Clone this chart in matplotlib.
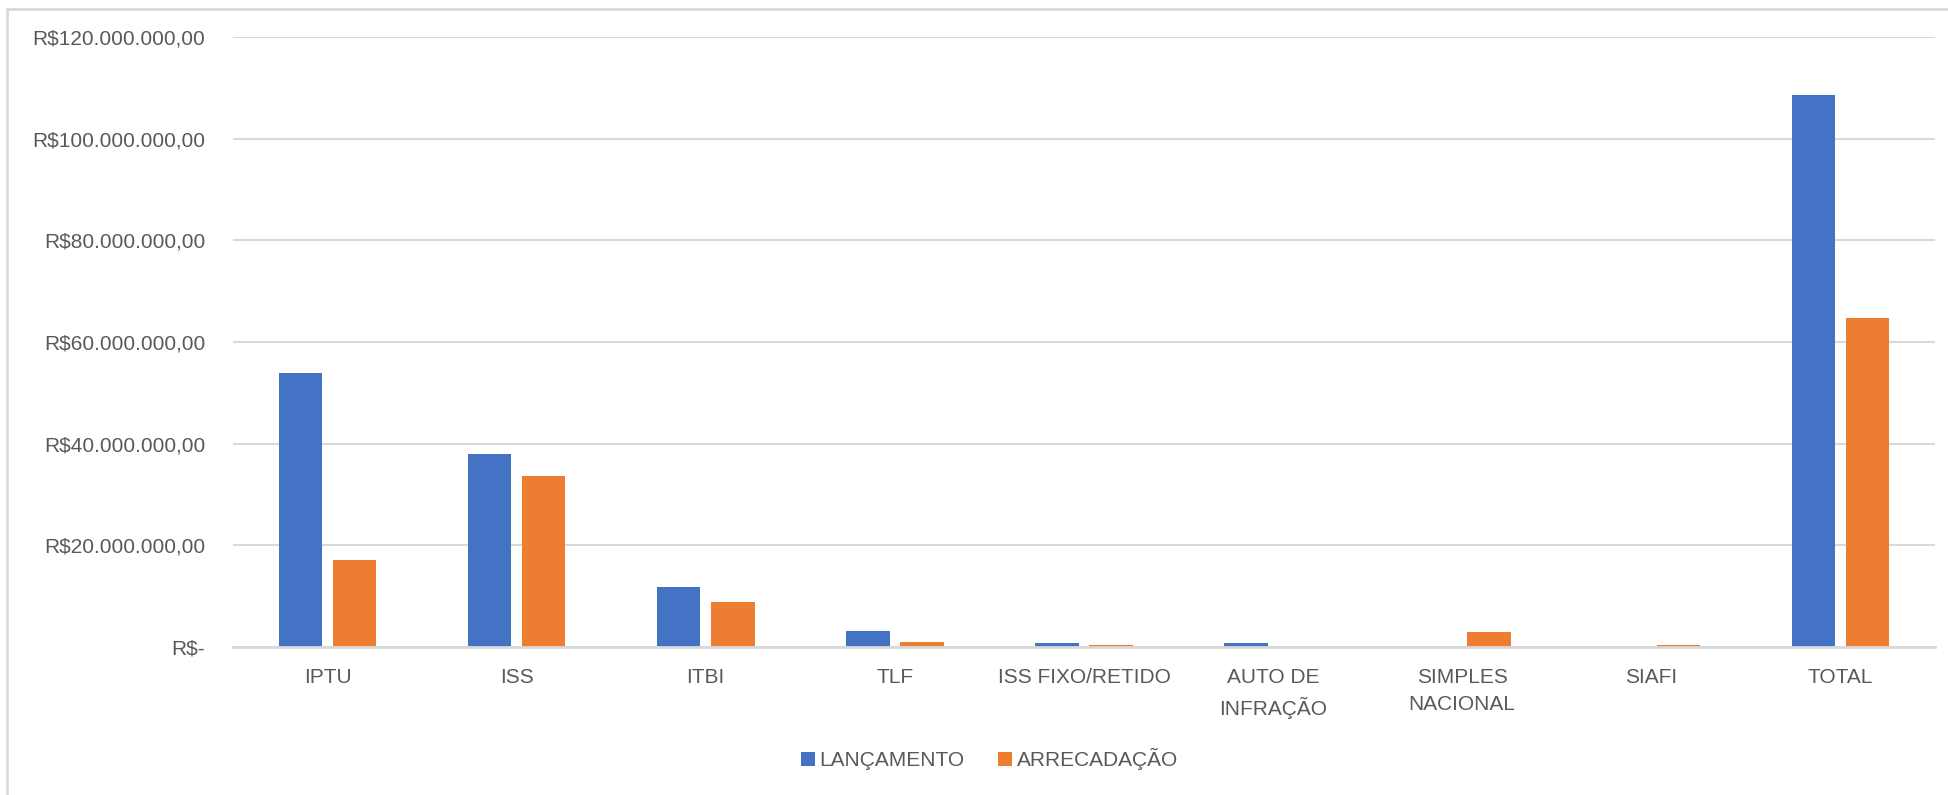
import numpy as np
import matplotlib.pyplot as plt
from matplotlib.patches import Rectangle
from matplotlib.ticker import FuncFormatter

categorias = ["IPTU", "ISS", "ITBI", "TLF", "ISS FIXO/RETIDO", "AUTO DE\nINFRAÇÃO",
              "SIMPLES\nNACIONAL", "SIAFI", "TOTAL"]
lancamento = [53.8e6, 37.9e6, 11.7e6, 3.2e6, 0.75e6, 0.72e6, 0.0, 0.0, 108.6e6]
arrecadacao = [17.1e6, 33.7e6, 8.8e6, 1.0e6, 0.3e6, 0.0, 2.9e6, 0.4e6, 64.8e6]
series_nomes = ["LANÇAMENTO", "ARRECADAÇÃO"]
yticks = [0, 20e6, 40e6, 60e6, 80e6, 100e6, 120e6]

azul = "#4472C4"
laranja = "#ED7D31"
cinza_txt = "#595959"
cinza_grid = "#d9d9d9"

plt.rcParams['font.family'] = ['Liberation Sans', 'DejaVu Sans']

def fmt_reais(v, pos=None):
    if v == 0:
        return "R$-"
    s = f"{v:,.2f}"
    s = s.replace(",", "X").replace(".", ",").replace("X", ".")
    return "R$" + s

fig = plt.figure(figsize=(19.48, 7.95), dpi=100)
ax = fig.add_axes([0.1196, 0.1862, 0.9933 - 0.1196, 0.9535 - 0.1862])

x = np.arange(len(categorias))
w = 0.23
off = 0.143
ax.bar(x - off, lancamento, w, color=azul, label=series_nomes[0], zorder=3)
ax.bar(x + off, arrecadacao, w, color=laranja, label=series_nomes[1], zorder=3)

ax.set_xlim(-0.5, len(categorias) - 0.5)
ax.set_ylim(0, 120e6)
ax.set_yticks(yticks)
ax.yaxis.set_major_formatter(FuncFormatter(fmt_reais))
ax.set_xticks(x)
ax.set_xticklabels(categorias, linespacing=1.55)

ax.grid(axis='y', color=cinza_grid, lw=1.5, zorder=0)
for s in ['top', 'right', 'left']:
    ax.spines[s].set_visible(False)
ax.spines['bottom'].set_color(cinza_grid)
ax.spines['bottom'].set_linewidth(2)
ax.spines['bottom'].set_zorder(4)
ax.tick_params(axis='both', length=0, labelsize=15, labelcolor=cinza_txt)
ax.tick_params(axis='y', pad=20)
ax.tick_params(axis='x', pad=15)

fig.legend(loc='center', bbox_to_anchor=(0.508, 0.045), ncol=2, frameon=False,
           fontsize=15, labelcolor=cinza_txt, handlelength=0.65, handleheight=0.65,
           handletextpad=0.25, columnspacing=1.6)

# moldura do gráfico
fig.patches.append(Rectangle((7 / 1948, -0.05), 1.2, 1 - 9 / 795 + 0.05,
                             transform=fig.transFigure, fill=False,
                             edgecolor=cinza_grid, lw=2))

fig.savefig("out.png", dpi=100)
